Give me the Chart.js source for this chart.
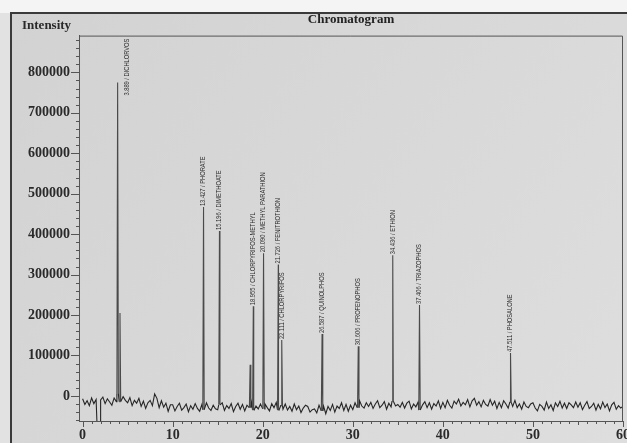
<!DOCTYPE html>
<html>
<head>
<meta charset="utf-8">
<title>Chromatogram</title>
<script src="https://cdn.jsdelivr.net/npm/chart.js@4.4.1/dist/chart.umd.min.js"></script>
<style>
  html, body { margin: 0; padding: 0; background: #fff; }
  #wrap { position: relative; width: 627px; height: 443px; }
</style>
</head>
<body>
<div id="wrap"><canvas id="chromChart"></canvas></div>
<script>
// baseline trace, one sample every 0.25 min from 0 to 60 min
const baseStart = 0;
const baseStep = 0.25;
const baseline = [
  -7000, -21000, -12000, -24000, -5000, -19000, -9000, -25000, -10000, -3000, -19000, -7000, -15000, -23000, -5000, -14000, 5000, -14000, -2000, -11000,
  -17000, -4000, -24000, -11000, -18000, -6000, -26000, -13000, -31000, -17000, -11000, -24000, 5000, -6000, -29000, -12000, -28000, -18000, -38000, -22000,
  -22000, -37000, -26000, -18000, -35000, -29000, -20000, -39000, -24000, -33000, -19000, -31000, -38000, -21000, -34000, -17000, -30000, -36000, -23000, -32000,
  -34000, -22000, -17000, -36000, -24000, -31000, -19000, -39000, -26000, -18000, -33000, -21000, -37000, -23000, -29000, -16000, -35000, -25000, -32000, -20000,
  -32000, -20000, -29000, -37000, -19000, -29000, -16000, -35000, -24000, -33000, -20000, -35000, -26000, -38000, -20000, -34000, -25000, -41000, -30000, -23000,
  -26000, -40000, -34000, -32000, -42000, -23000, -37000, -25000, -44000, -26000, -36000, -21000, -40000, -25000, -31000, -17000, -36000, -21000, -38000, -23000,
  -34000, -17000, -29000, -12000, -25000, -30000, -17000, -26000, -16000, -31000, -20000, -12000, -29000, -23000, -14000, -33000, -18000, -27000, -13000, -25000,
  -21000, -28000, -16000, -30000, -18000, -13000, -32000, -20000, -27000, -15000, -35000, -22000, -14000, -29000, -17000, -33000, -19000, -25000, -12000, -31000,
  -16000, -29000, -11000, -23000, -30000, -13000, -20000, -8000, -25000, -16000, -22000, -9000, -27000, -12000, -6000, -23000, -14000, -27000, -11000, -21000,
  -25000, -9000, -23000, -13000, -31000, -16000, -29000, -12000, -20000, -30000, -16000, -26000, -11000, -29000, -20000, -33000, -15000, -26000, -29000, -20000,
  -17000, -30000, -37000, -21000, -26000, -35000, -15000, -31000, -22000, -36000, -17000, -26000, -13000, -30000, -18000, -31000, -17000, -22000, -29000, -15000,
  -28000, -17000, -34000, -23000, -14000, -31000, -26000, -18000, -35000, -21000, -32000, -15000, -29000, -20000, -37000, -22000, -16000, -33000, -24000, -30000,
  -26000
];

// off-scale negative excursion near the solvent front (min)
const dipTimes = [1.6, 1.95];
const dipLevel = -70000;

// peaks: retention time (min), apex intensity, label
const peakTimes = [3.889, 4.15, 13.427, 15.196, 18.6, 18.955, 20.090, 21.726, 22.111, 26.587, 30.606, 34.436, 37.406, 47.511];
const peakHeights = [775000, 205000, 467000, 408000, 77000, 222000, 353000, 325000, 138000, 153000, 123000, 348000, 225000, 106000];
const peakLabels = [
  '3.889 / DICHLORVOS', '', '13.427 / PHORATE', '15.196 / DIMETHOATE', '',
  '18.955 / CHLORPYRIFOS-METHYL', '20.090 / METHYL PARATHION', '21.726 / FENITROTHION',
  '22.111 / CHLORPYRIFOS', '26.587 / QUINOLPHOS', '30.606 / PROFENOPHOS',
  '34.436 / ETHION', '37.406 / TRIAZOPHOS', '47.511 / PHOSALONE'
];

// axis labels
const xTickValues = [0, 10, 20, 30, 40, 50, 60];
const yTickValues = [0, 100000, 200000, 300000, 400000, 500000, 600000, 700000, 800000];

const peakHalfWidth = 0.08;

function buildTrace() {
  const pts = [];
  baseline.forEach((v, i) => {
    const t = baseStart + i * baseStep;
    if (t > dipTimes[0] && t < dipTimes[1]) return;
    pts.push({ x: t, y: v });
  });
  dipTimes.forEach(t => pts.push({ x: t, y: dipLevel }));
  peakTimes.forEach((t, i) => {
    const b = baseline[Math.round((t - baseStart) / baseStep)];
    pts.push({ x: t - peakHalfWidth, y: b }, { x: t, y: peakHeights[i] }, { x: t + peakHalfWidth, y: b });
  });
  return pts.sort((a, b) => a.x - b.x);
}

const serifBold = { family: '"Liberation Serif", "DejaVu Serif", serif', size: 14, weight: 'bold' };

// paper background, outer frame and the "Intensity" caption
const paperPlugin = {
  id: 'paper',
  beforeDraw(chart) {
    const { ctx, width, height } = chart;
    ctx.save();
    ctx.fillStyle = '#f4f4f4';
    ctx.fillRect(0, 0, width, height);
    const g = ctx.createLinearGradient(0, 0, width, height);
    g.addColorStop(0, '#d2d2d2');
    g.addColorStop(0.5, '#d8d8d8');
    g.addColorStop(1, '#dedede');
    ctx.fillStyle = g;
    ctx.fillRect(11, 13, width - 11, height - 13);
    ctx.fillStyle = '#e2e2e2';
    ctx.fillRect(0, 13, 11, height - 13);
    ctx.strokeStyle = '#3a3a3a';
    ctx.lineWidth = 2;
    ctx.beginPath();
    ctx.moveTo(11, height);
    ctx.lineTo(11, 13);
    ctx.lineTo(width, 13);
    ctx.stroke();
    ctx.fillStyle = '#2a2a2a';
    ctx.font = 'bold 13px "Liberation Serif", "DejaVu Serif", serif';
    ctx.textBaseline = 'alphabetic';
    ctx.fillText('Intensity', 22, 29);
    ctx.restore();
  },
  afterDraw(chart) {
    const { ctx, chartArea: a, scales: { x, y } } = chart;
    ctx.save();
    ctx.strokeStyle = '#555';
    ctx.lineWidth = 1;
    // top and right of the plot box
    ctx.beginPath();
    ctx.moveTo(a.left, a.top + 0.5);
    ctx.lineTo(a.right - 0.5, a.top + 0.5);
    ctx.lineTo(a.right - 0.5, a.bottom);
    ctx.stroke();
    // y ticks: major every 100000, minor every 20000
    ctx.beginPath();
    for (let v = -60000; v <= 880000; v += 20000) {
      const py = Math.round(y.getPixelForValue(v)) + 0.5;
      const len = v % 100000 === 0 ? 8 : 3;
      ctx.moveTo(a.left - len, py);
      ctx.lineTo(a.left, py);
    }
    // x ticks: major every 10 min, minor every 1 min
    for (let m = 0; m <= 60; m += 1) {
      const px = Math.round(x.getPixelForValue(m)) + 0.5;
      const len = m % 10 === 0 ? 6 : (m % 5 === 0 ? 4 : 3);
      ctx.moveTo(px, a.bottom);
      ctx.lineTo(px, a.bottom + len);
    }
    ctx.stroke();
    ctx.restore();
  }
};

// vertical compound names above each peak
const peakLabelPlugin = {
  id: 'peakLabels',
  afterDatasetsDraw(chart) {
    const { ctx, chartArea: a, scales: { x, y } } = chart;
    ctx.save();
    ctx.fillStyle = '#2b2b2b';
    ctx.font = '7px "Liberation Sans", Arial, sans-serif';
    ctx.textBaseline = 'middle';
    ctx.textAlign = 'left';
    const squeeze = 0.82;
    peakTimes.forEach((t, i) => {
      if (!peakLabels[i]) return;
      const len = ctx.measureText(peakLabels[i]).width * squeeze;
      let px = x.getPixelForValue(t);
      let py = y.getPixelForValue(peakHeights[i]) - 1;
      if (py - len < a.top + 2) {
        // no room above the apex: shift beside the peak
        px += 9;
        py = a.top + 3 + len;
      }
      ctx.save();
      ctx.translate(px, py);
      ctx.rotate(-Math.PI / 2);
      ctx.scale(squeeze, 1);
      ctx.fillText(peakLabels[i], 0, 0);
      ctx.restore();
    });
    ctx.restore();
  }
};

// tall peak strokes print a bit lighter than the noisy baseline
const isPeakSeg = c => Math.max(c.p0.parsed.y, c.p1.parsed.y) > 40000;

const ctx1 = document.getElementById('chromChart').getContext('2d');
new Chart(ctx1, {
  type: 'line',
  data: {
    datasets: [{
      label: 'Intensity',
      data: buildTrace(),
      borderColor: '#2a2a2a',
      borderWidth: 1.1,
      pointRadius: 0,
      tension: 0,
      fill: false,
      segment: {
        borderColor: c => isPeakSeg(c) ? '#4a4a4a' : '#262626'
      }
    }]
  },
  options: {
    responsive: true,
    maintainAspectRatio: false,
    animation: false,
    layout: { padding: { left: 0, right: 4, top: 0, bottom: 0 } },
    plugins: {
      legend: { display: false },
      tooltip: { enabled: false },
      title: {
        display: true,
        text: 'Chromatogram',
        fullSize: false,
        color: '#222',
        font: { family: '"Liberation Serif", "DejaVu Serif", serif', size: 13, weight: 'bold' },
        padding: { top: 12, bottom: 8 }
      }
    },
    scales: {
      x: {
        type: 'linear',
        min: -0.4,
        max: 60,
        afterBuildTicks: axis => { axis.ticks = xTickValues.map(v => ({ value: v })); },
        afterFit: s => { s.height = 22; s.paddingLeft = 0; s.paddingRight = 0; },
        ticks: { color: '#2a2a2a', font: serifBold, padding: 0, maxRotation: 0, autoSkip: false },
        grid: { drawOnChartArea: false, drawTicks: true, tickLength: 6, tickColor: 'rgba(0,0,0,0)' },
        border: { display: true, color: '#555', width: 1 }
      },
      y: {
        min: -62000,
        max: 891000,
        afterBuildTicks: axis => { axis.ticks = yTickValues.map(v => ({ value: v })); },
        afterFit: s => { s.width = 79; s.paddingTop = 0; s.paddingBottom = 0; },
        ticks: { color: '#2a2a2a', font: serifBold, padding: 3, autoSkip: false, callback: v => String(v) },
        grid: { drawOnChartArea: false, drawTicks: true, tickLength: 6, tickColor: 'rgba(0,0,0,0)' },
        border: { display: true, color: '#555', width: 1 }
      }
    }
  },
  plugins: [paperPlugin, peakLabelPlugin]
});
</script>
</body>
</html>
